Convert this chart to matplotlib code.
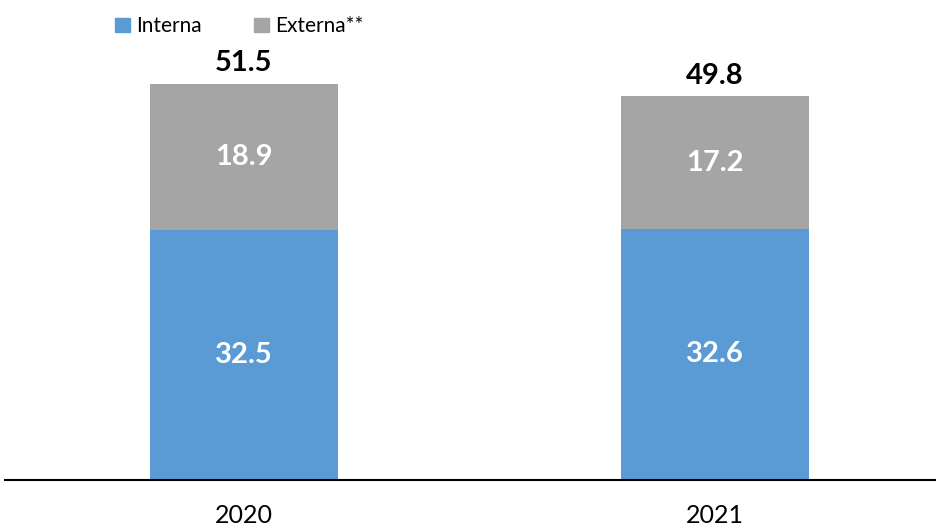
import matplotlib
matplotlib.use('Agg')
import matplotlib.pyplot as plt
from matplotlib.patches import Patch

plt.rcParams['font.family'] = ['Lato', 'DejaVu Sans']

years = ['2020', '2021']
interna = [32.5, 32.6]
externa = [18.9, 17.2]
totals = [51.5, 49.8]

BLUE = '#5B9BD5'
GRAY = '#A5A5A5'

fig = plt.figure(figsize=(9.36, 5.27), dpi=100)
ax = fig.add_axes([5 / 936, 1 - 480 / 527, 931 / 936, 480 / 527])

x = list(range(len(years)))
w = 0.40
ax.bar(x, interna, width=w, color=BLUE, zorder=2)
ax.bar(x, externa, width=w, bottom=interna, color=GRAY, zorder=2)

for xi, a, b, t in zip(x, interna, externa, totals):
    ax.text(xi, a / 2, f'{a:.1f}', ha='center', va='center', color='white',
            fontsize=21, fontweight='bold')
    ax.text(xi, a + b / 2, f'{b:.1f}', ha='center', va='center', color='white',
            fontsize=21, fontweight='bold')
    ax.text(xi, a + b + 1.0, f'{t:.1f}', ha='center', va='bottom', color='black',
            fontsize=21, fontweight='bold')

ax.set_xlim(-0.507, 1.469)
ax.set_ylim(0, 62.3)
for s in ['left', 'right', 'top']:
    ax.spines[s].set_visible(False)
ax.spines['bottom'].set_color('black')
ax.spines['bottom'].set_linewidth(1.5)
ax.set_yticks([])
ax.set_xticks(x)
ax.set_xticklabels(years, fontsize=18)
ax.tick_params(axis='x', length=0, pad=17)

handles = [Patch(color=BLUE, label='Interna'), Patch(color=GRAY, label='Externa**')]
fig.legend(handles=handles, loc='upper left', bbox_to_anchor=(105 / 936, 1 - 6 / 527),
           ncol=2, frameon=False, fontsize=15, handlelength=0.7, handleheight=0.7,
           handletextpad=0.3, columnspacing=2.5, borderaxespad=0.1)

fig.savefig('out.png', dpi=100)
